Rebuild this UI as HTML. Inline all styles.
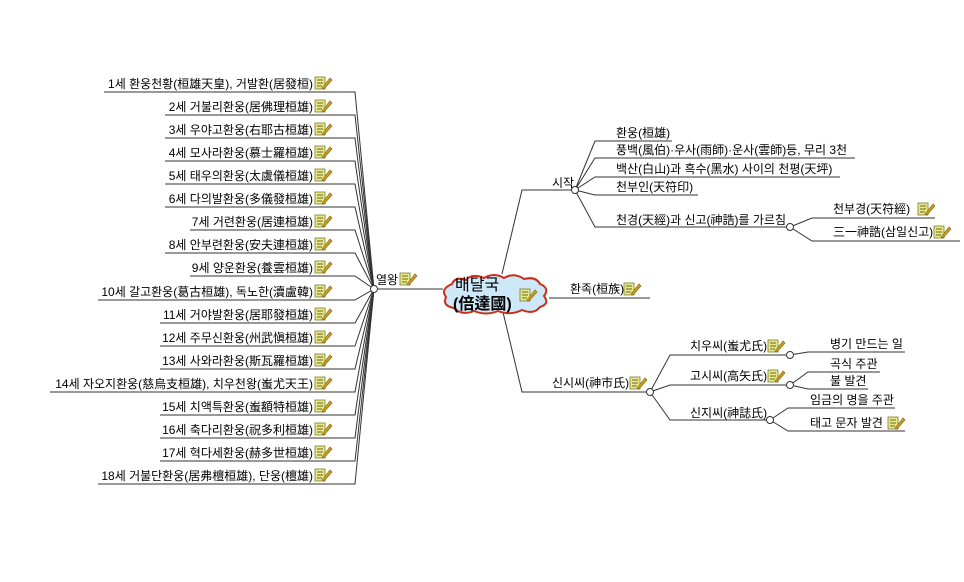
<!DOCTYPE html>
<html><head><meta charset="utf-8"><style>
html,body{margin:0;padding:0;background:#fff;width:964px;height:582px;overflow:hidden}
svg{display:block}
text{font-family:"Liberation Sans","Noto Sans CJK KR","NanumGothic",sans-serif;font-size:12px;fill:#000}
</style></head><body>
<svg width="964" height="582" viewBox="0 0 964 582" xmlns="http://www.w3.org/2000/svg">
<defs>
<g id="ic">
<rect x="0" y="1" width="10" height="12" fill="#e8e88a" stroke="#7a7a30" stroke-width="0.8"/>
<line x1="2" y1="4" x2="8" y2="4" stroke="#6a6a20" stroke-width="1"/>
<line x1="2" y1="7" x2="8" y2="7" stroke="#6a6a20" stroke-width="1"/>
<line x1="2" y1="10" x2="7" y2="10" stroke="#6a6a20" stroke-width="1"/>
<path d="M7 12 L15 2 L17 4 L9 13 Z" fill="#c8a020" stroke="#806010" stroke-width="0.6"/>
</g>
</defs>
<g stroke="#333" stroke-width="1" fill="none">
<!-- left items -->
<path d="M104 92 H355 L374 289"/>
<path d="M165 115 H355 L374 289"/>
<path d="M165 138 H355 L374 289"/>
<path d="M165 161 H355 L374 289"/>
<path d="M165 184 H355 L374 289"/>
<path d="M165 207 H355 L374 289"/>
<path d="M190 230 H355 L374 289"/>
<path d="M165 253 H355 L374 289"/>
<path d="M190 276 H355 L374 289"/>
<path d="M98 300 H355 L374 289"/>
<path d="M160 323 H355 L374 289"/>
<path d="M160 346 H355 L374 289"/>
<path d="M160 369 H355 L374 289"/>
<path d="M50 392 H355 L374 289"/>
<path d="M160 415 H355 L374 289"/>
<path d="M160 438 H355 L374 289"/>
<path d="M160 461 H355 L374 289"/>
<path d="M98 484 H355 L374 289"/>
<path d="M374 289 H443"/>
<!-- right -->
<path d="M502 274 L522 190 H575"/>
<path d="M575 190 L595 141 H672"/>
<path d="M575 190 L595 158 H855"/>
<path d="M575 190 L595 177 H840"/>
<path d="M575 190 L595 195 H698"/>
<path d="M575 190 L595 227 H790"/>
<path d="M790 227 L812 218 H935"/>
<path d="M790 227 L812 241 H960"/>
<path d="M549 298 H650"/>
<path d="M502 308 L522 392 H650"/>
<path d="M650 392 L670 355 H790"/>
<path d="M650 392 L670 385 H790"/>
<path d="M650 392 L670 420 H770"/>
<path d="M790 355 L808 352 H905"/>
<path d="M790 385 L808 372 H880"/>
<path d="M790 385 L808 389 H868"/>
<path d="M770 420 L788 408 H895"/>
<path d="M770 420 L788 431 H905"/>
</g>
<g fill="#fff" stroke="#333" stroke-width="1">
<circle cx="374" cy="289" r="3.5"/>
<circle cx="575" cy="190" r="3.5"/>
<circle cx="790" cy="227" r="3.5"/>
<circle cx="650" cy="392" r="3.5"/>
<circle cx="790" cy="355" r="3.5"/>
<circle cx="790" cy="385" r="3.5"/>
<circle cx="770" cy="420" r="3.5"/>
</g>
<!-- cloud -->
<path d="M452 284 Q455 276 466 280 Q472 273 484 278 Q494 272 504 278 Q514 272 524 279 Q536 276 540 284 Q550 288 544 296 Q550 304 540 307 Q534 315 522 310 Q510 316 498 311 Q486 316 474 311 Q462 316 454 308 Q442 306 446 297 Q440 289 452 284 Z" fill="#cde8f8" stroke="#c8301a" stroke-width="2"/>
<text x="455" y="290" style="font-size:16px">배달국</text>
<text x="453" y="309" style="font-size:16px;font-weight:bold">(倍達國)</text>
<use href="#ic" x="520" y="288"/>
<!-- left texts -->
<g text-anchor="end">
<text x="313" y="88">1세 환웅천황(桓雄天皇), 거발환(居發桓)</text>
<text x="313" y="111">2세 거불리환웅(居佛理桓雄)</text>
<text x="313" y="134">3세 우야고환웅(右耶古桓雄)</text>
<text x="313" y="157">4세 모사라환웅(慕士羅桓雄)</text>
<text x="313" y="180">5세 태우의환웅(太虞儀桓雄)</text>
<text x="313" y="203">6세 다의발환웅(多儀發桓雄)</text>
<text x="313" y="226">7세 거련환웅(居連桓雄)</text>
<text x="313" y="249">8세 안부련환웅(安夫連桓雄)</text>
<text x="313" y="272">9세 양운환웅(養雲桓雄)</text>
<text x="313" y="296">10세 갈고환웅(葛古桓雄), 독노한(瀆盧韓)</text>
<text x="313" y="319">11세 거야발환웅(居耶發桓雄)</text>
<text x="313" y="342">12세 주무신환웅(州武愼桓雄)</text>
<text x="313" y="365">13세 사와라환웅(斯瓦羅桓雄)</text>
<text x="313" y="388">14세 자오지환웅(慈烏支桓雄), 치우천왕(蚩尤天王)</text>
<text x="313" y="411">15세 치액특환웅(蚩額特桓雄)</text>
<text x="313" y="434">16세 축다리환웅(祝多利桓雄)</text>
<text x="313" y="457">17세 혁다세환웅(赫多世桓雄)</text>
<text x="313" y="480">18세 거불단환웅(居弗檀桓雄), 단웅(檀雄)</text>
</g>
<g>
<use href="#ic" x="315" y="76"/><use href="#ic" x="315" y="99"/><use href="#ic" x="315" y="122"/>
<use href="#ic" x="315" y="145"/><use href="#ic" x="315" y="168"/><use href="#ic" x="315" y="191"/>
<use href="#ic" x="315" y="214"/><use href="#ic" x="315" y="237"/><use href="#ic" x="315" y="260"/>
<use href="#ic" x="315" y="284"/><use href="#ic" x="315" y="307"/><use href="#ic" x="315" y="330"/>
<use href="#ic" x="315" y="353"/><use href="#ic" x="315" y="376"/><use href="#ic" x="315" y="399"/>
<use href="#ic" x="315" y="422"/><use href="#ic" x="315" y="445"/><use href="#ic" x="315" y="468"/>
</g>
<text x="376" y="284">열왕</text><use href="#ic" x="400" y="272"/>
<!-- right texts -->
<text x="552" y="187">시작</text>
<text x="616" y="137">환웅(桓雄)</text>
<text x="616" y="154">풍백(風伯)·우사(雨師)·운사(雲師)등, 무리 3천</text>
<text x="616" y="173">백산(白山)과 흑수(黑水) 사이의 천평(天坪)</text>
<text x="616" y="191">천부인(天符印)</text>
<text x="616" y="224">천경(天經)과 신고(神誥)를 가르침</text>
<text x="833" y="213">천부경(天符經)</text><use href="#ic" x="918" y="202"/>
<text x="833" y="236">三一神誥(삼일신고)</text><use href="#ic" x="934" y="225"/>
<text x="570" y="293">환족(桓族)</text><use href="#ic" x="624" y="282"/>
<text x="552" y="387">신시씨(神市氏)</text><use href="#ic" x="630" y="376"/>
<text x="690" y="350">치우씨(蚩尤氏)</text><use href="#ic" x="768" y="339"/>
<text x="690" y="380">고시씨(高矢氏)</text><use href="#ic" x="768" y="369"/>
<text x="690" y="417">신지씨(神誌氏)</text>
<text x="830" y="348">병기 만드는 일</text>
<text x="830" y="368">곡식 주관</text>
<text x="830" y="385">불 발견</text>
<text x="810" y="404">임금의 명을 주관</text>
<text x="810" y="427">태고 문자 발견</text><use href="#ic" x="888" y="416"/>
</svg>
</body></html>
